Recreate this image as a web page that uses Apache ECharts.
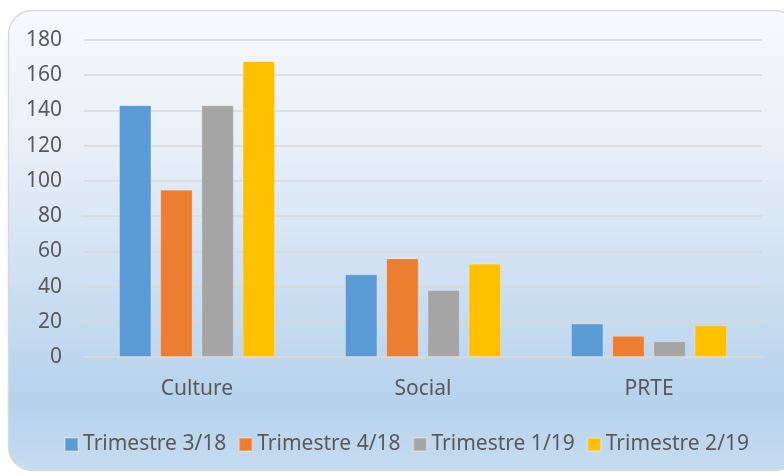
<!DOCTYPE html>
<html><head><meta charset="utf-8">
<script src="https://cdn.jsdelivr.net/npm/echarts@6/dist/echarts.min.js"></script>
<style>html,body{margin:0;padding:0;background:#fff}#c{width:784px;height:476px}</style>
</head><body><div id="c"></div>
<script>
const categories = ['Culture', 'Social', 'PRTE'];
const seriesNames = ['Trimestre 3/18', 'Trimestre 4/18', 'Trimestre 1/19', 'Trimestre 2/19'];
const t318 = [143, 47, 19];
const t418 = [95, 56, 12];
const t119 = [143, 38, 9];
const t219 = [168, 53, 18];
const colors = ['#5b9bd5', '#ed7d31', '#a5a5a5', '#ffc000'];
const values = [t318, t418, t119, t219];
const font = '"Noto Sans", sans-serif';
const chart = echarts.init(document.getElementById('c'));
chart.setOption({
  animation: false,
  graphic: [{
    type: 'rect', z: -10, silent: true,
    shape: {x: 8.5, y: 10.5, width: 790, height: 460, r: 24},
    style: {
      fill: new echarts.graphic.LinearGradient(0, 0, 0, 1, [
        {offset: 0, color: '#f7f9fc'},
        {offset: 0.3, color: '#e8eff8'},
        {offset: 0.85, color: '#b6d2ec'},
        {offset: 1, color: '#c6dcf0'}
      ]),
      stroke: '#d9d9d9', lineWidth: 1.5
    }
  }],
  color: colors,
  grid: {left: 84, right: 22, top: 40, bottom: 119},
  legend: {
    data: seriesNames, left: 59, top: 429,
    itemWidth: 13, itemHeight: 13, itemGap: 12, icon: 'rect',
    textStyle: {color: '#595959', fontSize: 21, fontFamily: font}
  },
  xAxis: {
    type: 'category', data: categories,
    axisLine: {lineStyle: {color: '#d9d9d9', width: 1.5}},
    axisTick: {show: false},
    axisLabel: {color: '#595959', fontSize: 21, fontFamily: font, margin: 22}
  },
  yAxis: {
    type: 'value', min: 0, max: 180, interval: 20,
    axisLine: {show: false}, axisTick: {show: false},
    splitLine: {lineStyle: {color: '#d9d9d9', width: 1.5}},
    axisLabel: {color: '#595959', fontSize: 21, fontFamily: font, margin: 22}
  },
  series: seriesNames.map((n, i) => ({
    name: n, type: 'bar', data: values[i],
    barGap: '27%', barCategoryGap: '31%',
    itemStyle: {color: colors[i], borderColor: 'rgba(255,255,255,0.25)', borderWidth: 1}
  }))
});
</script></body></html>
